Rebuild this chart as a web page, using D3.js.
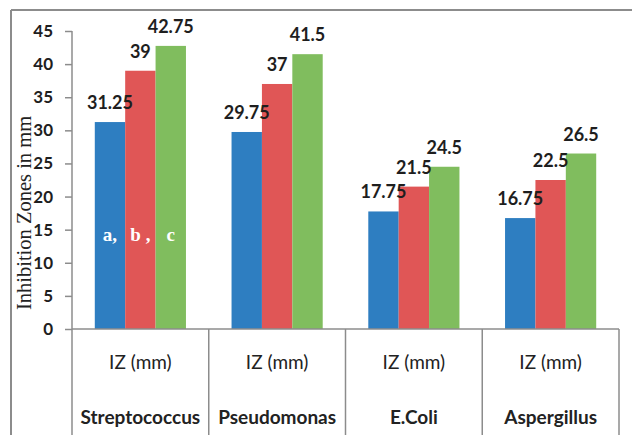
<!DOCTYPE html>
<meta charset="utf-8">
<style>
body { margin: 0; background: #fff; }
</style>
<div id="chart"></div>
<script src="https://d3js.org/d3.v7.min.js"></script>
<script>

// Data
var categories = ["Streptococcus", "Pseudomonas", "E.Coli", "Aspergillus"];
var subLabel = "IZ (mm)";
var seriesA = [31.25, 29.75, 17.75, 16.75];
var seriesB = [39, 37, 21.5, 22.5];
var seriesC = [42.75, 41.5, 24.5, 26.5];
var seriesTags = ["a,", "b ,", "c"];
var yTicks = [0, 5, 10, 15, 20, 25, 30, 35, 40, 45];

var colors = ["#2e7ec1", "#e05656", "#80bd5e"];
var series = [seriesA, seriesB, seriesC];

var W = 632, H = 435;
var plot = {left: 72, right: 619, top: 31, bottom: 329};

var svg = d3.select("#chart").append("svg")
  .attr("width", W)
  .attr("height", H);

// outer frame (only top and left visible)
svg.append("line")
  .attr("x1", 11).attr("x2", W).attr("y1", 10).attr("y2", 10)
  .attr("stroke", "#8c8c8c").attr("stroke-width", 2);
svg.append("line")
  .attr("x1", 11).attr("x2", 11).attr("y1", 10).attr("y2", H)
  .attr("stroke", "#8c8c8c").attr("stroke-width", 2);

var x = d3.scaleBand()
  .domain(categories)
  .range([plot.left, plot.right]);

var bw = x.bandwidth() / 4.5;   // excel gap width 150%
var x1 = d3.scaleBand()
  .domain([0, 1, 2])
  .range([bw * 0.75, x.bandwidth() - bw * 0.75]);

var y = d3.scaleLinear()
  .domain([0, 45])
  .range([plot.bottom, plot.top]);

// bars
var rows = [];
categories.forEach(function(c, i) {
  series.forEach(function(s, j) {
    rows.push({cat: c, s: j, v: s[i]});
  });
});

svg.append("g").selectAll("rect")
  .data(rows)
  .enter().append("rect")
    .attr("x", function(d) { return x(d.cat) + x1(d.s); })
    .attr("y", function(d) { return y(d.v); })
    .attr("width", x1.bandwidth())
    .attr("height", function(d) { return y(0) - y(d.v); })
    .attr("fill", function(d) { return colors[d.s]; });

// value labels
svg.append("g").selectAll("text")
  .data(rows)
  .enter().append("text")
    .attr("x", function(d) { return x(d.cat) + x1(d.s) + x1.bandwidth() / 2; })
    .attr("y", function(d) { return y(d.v) - 13; })
    .attr("text-anchor", "middle")
    .style("font-family", "Lato, sans-serif")
    .style("font-weight", "bold")
    .style("font-size", "18px")
    .style("fill", "#1e1e1e")
    .text(function(d) { return d.v; });

// a, b, c tags on the first group
svg.append("g").selectAll("text")
  .data(seriesTags)
  .enter().append("text")
    .attr("x", function(d, i) { return x(categories[0]) + x1(i) + x1.bandwidth() / 2; })
    .attr("y", 241)
    .attr("text-anchor", "middle")
    .style("font-family", "'Liberation Serif', serif")
    .style("font-weight", "bold")
    .style("font-size", "19px")
    .style("fill", "#fff")
    .text(function(d) { return d; });

// y axis
var yAxis = svg.append("g")
  .attr("transform", "translate(" + plot.left + ",0)")
  .call(d3.axisLeft(y).tickValues(yTicks).tickSize(7).tickSizeOuter(0).tickPadding(12));
yAxis.select(".domain").remove();
yAxis.selectAll(".tick line").attr("stroke", "#8c8c8c").attr("stroke-width", 1.5);
yAxis.selectAll("text")
  .style("font-family", "Lato, sans-serif")
  .style("font-weight", "bold")
  .style("font-size", "17px")
  .style("fill", "#1e1e1e");

// y axis line continuing into the table
svg.append("line")
  .attr("x1", plot.left).attr("x2", plot.left).attr("y1", plot.top).attr("y2", H)
  .attr("stroke", "#8c8c8c").attr("stroke-width", 1.5);

// x axis line
svg.append("line")
  .attr("x1", plot.left).attr("x2", plot.right).attr("y1", plot.bottom).attr("y2", plot.bottom)
  .attr("stroke", "#8c8c8c").attr("stroke-width", 1.5);

// category table separators
svg.append("g").selectAll("line")
  .data(categories)
  .enter().append("line")
    .attr("x1", function(d) { return x(d) + x.bandwidth(); })
    .attr("x2", function(d) { return x(d) + x.bandwidth(); })
    .attr("y1", plot.bottom).attr("y2", H)
    .attr("stroke", "#8c8c8c").attr("stroke-width", 1.5);

svg.append("g").selectAll("text")
  .data(categories)
  .enter().append("text")
    .attr("x", function(d) { return x(d) + x.bandwidth() / 2; })
    .attr("y", 369)
    .attr("text-anchor", "middle")
    .style("font-family", "Lato, sans-serif")
    .style("font-size", "19px")
    .style("fill", "#222")
    .text(subLabel);

svg.append("g").selectAll("text")
  .data(categories)
  .enter().append("text")
    .attr("x", function(d) { return x(d) + x.bandwidth() / 2; })
    .attr("y", 424)
    .attr("text-anchor", "middle")
    .style("font-family", "Lato, sans-serif")
    .style("font-weight", "bold")
    .style("font-size", "19px")
    .style("fill", "#222")
    .text(function(d) { return d; });

// y axis title
svg.append("text")
  .attr("transform", "translate(31,213) rotate(-90)")
  .attr("text-anchor", "middle")
  .style("font-family", "'Liberation Serif', serif")
  .style("font-size", "20.5px")
  .style("fill", "#222")
  .text("Inhibition Zones in mm");

</script>
